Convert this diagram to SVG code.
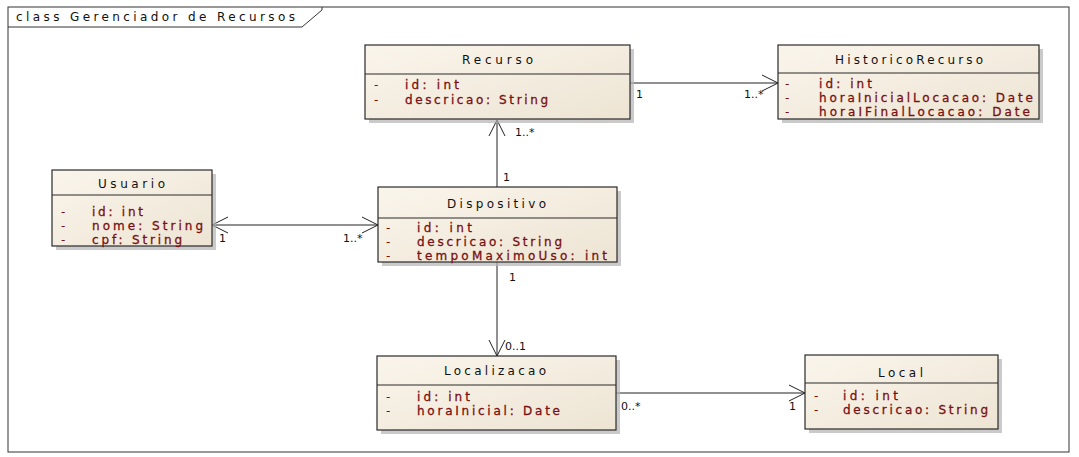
<svg xmlns="http://www.w3.org/2000/svg" width="1079" height="457" viewBox="0 0 1079 457">
  <defs>
    <linearGradient id="classFill" x1="0" y1="0" x2="1" y2="1">
      <stop offset="0" stop-color="#FAF5EC"/>
      <stop offset="1" stop-color="#EDE4D3"/>
    </linearGradient>
    <marker id="open" viewBox="-17 -9 19 18" refX="0" refY="0" markerWidth="19" markerHeight="18" markerUnits="userSpaceOnUse" orient="auto-start-reverse">
      <path d="M -16 -8 L 0 0 L -16 8" fill="none" stroke="#222" stroke-width="1"/>
    </marker>
    <style>
      .frame { fill: none; stroke: #333; stroke-width: 1; }
      .shadow { fill: #b4b4b4; opacity: 0.7; }
      .box { fill: url(#classFill); stroke: #2a2a2a; stroke-width: 1.2; }
      .div { stroke: #2a2a2a; stroke-width: 1; }
      .title { font-family: "DejaVu Sans", Verdana, sans-serif; font-size: 12px; fill: #111; }
      .attr { font-family: "DejaVu Sans", Verdana, sans-serif; font-size: 12px; fill: #7a1010; stroke: #7a1010; stroke-width: 0.3; }
      .vis { font-family: "DejaVu Sans", Verdana, sans-serif; font-size: 12px; fill: #7a1010; }
      .mult { font-family: "DejaVu Sans", Verdana, sans-serif; font-size: 11px; fill: #111; }
      .frame-label { font-family: "DejaVu Sans", Verdana, sans-serif; font-size: 12px; fill: #111; }
      .conn { stroke: #222; stroke-width: 1; fill: none; }
    </style>
  </defs>

  <rect width="1079" height="457" fill="#ffffff"/>

  <!-- diagram frame -->
  <g id="frame">
    <rect class="frame" x="8" y="7" width="1061" height="445"/>
    <path class="frame" d="M 8 27 H 302 L 322 10 V 7"/>
    <text class="frame-label" x="16" y="21" textLength="279" lengthAdjust="spacing">class Gerenciador de Recursos</text>
  </g>

  <!-- associations -->
  <g id="connectors">
    <line class="conn" x1="630" y1="83" x2="778" y2="83" marker-end="url(#open)"/>
    <line class="conn" x1="497" y1="187" x2="497" y2="120" marker-end="url(#open)"/>
    <line class="conn" x1="212" y1="225" x2="378" y2="225" marker-start="url(#open)" marker-end="url(#open)"/>
    <line class="conn" x1="497" y1="262" x2="497" y2="356" marker-end="url(#open)"/>
    <line class="conn" x1="616" y1="393" x2="805" y2="393" marker-end="url(#open)"/>

    <text class="mult" x="636" y="98">1</text>
    <text class="mult" x="744" y="98">1..*</text>
    <text class="mult" x="515" y="136">1..*</text>
    <text class="mult" x="503" y="181">1</text>
    <text class="mult" x="219" y="242">1</text>
    <text class="mult" x="343" y="242">1..*</text>
    <text class="mult" x="509" y="281">1</text>
    <text class="mult" x="505" y="350">0..1</text>
    <text class="mult" x="621" y="410">0..*</text>
    <text class="mult" x="789" y="410">1</text>
  </g>

  <!-- Recurso -->
  <g id="recurso">
    <rect class="shadow" x="369" y="49" width="265" height="74"/>
    <rect class="box" x="365" y="45" width="265" height="74"/>
    <line class="div" x1="365" y1="74" x2="630" y2="74"/>
    <text class="title" x="462" y="64" textLength="71" lengthAdjust="spacing">Recurso</text>
    <text class="vis" x="374" y="89">-</text>
    <text class="attr" x="405" y="89" textLength="54" lengthAdjust="spacing">id:  int</text>
    <text class="vis" x="374" y="104">-</text>
    <text class="attr" x="405" y="104" textLength="143" lengthAdjust="spacing">descricao:  String</text>
  </g>

  <!-- HistoricoRecurso -->
  <g id="historicoRecurso">
    <rect class="shadow" x="782" y="49" width="261" height="74"/>
    <rect class="box" x="778" y="45" width="261" height="74"/>
    <line class="div" x1="778" y1="73" x2="1039" y2="73"/>
    <text class="title" x="835" y="64" textLength="148" lengthAdjust="spacing">HistoricoRecurso</text>
    <text class="vis" x="785" y="88">-</text>
    <text class="attr" x="819" y="88" textLength="53" lengthAdjust="spacing">id:  int</text>
    <text class="vis" x="785" y="102">-</text>
    <text class="attr" x="819" y="102" textLength="214" lengthAdjust="spacing">horaInicialLocacao:  Date</text>
    <text class="vis" x="785" y="116">-</text>
    <text class="attr" x="819" y="116" textLength="211" lengthAdjust="spacing">horaIFinalLocacao:  Date</text>
  </g>

  <!-- Usuario -->
  <g id="usuario">
    <rect class="shadow" x="56" y="174" width="160" height="76"/>
    <rect class="box" x="52" y="170" width="160" height="76"/>
    <line class="div" x1="52" y1="195" x2="212" y2="195"/>
    <text class="title" x="98" y="188" textLength="67" lengthAdjust="spacing">Usuario</text>
    <text class="vis" x="61" y="216">-</text>
    <text class="attr" x="92" y="216" textLength="51" lengthAdjust="spacing">id:  int</text>
    <text class="vis" x="61" y="230">-</text>
    <text class="attr" x="92" y="230" textLength="111" lengthAdjust="spacing">nome:  String</text>
    <text class="vis" x="61" y="244">-</text>
    <text class="attr" x="92" y="244" textLength="90" lengthAdjust="spacing">cpf:  String</text>
  </g>

  <!-- Dispositivo -->
  <g id="dispositivo">
    <rect class="shadow" x="382" y="191" width="239" height="75"/>
    <rect class="box" x="378" y="187" width="239" height="75"/>
    <line class="div" x1="378" y1="218" x2="617" y2="218"/>
    <text class="title" x="447" y="208" textLength="99" lengthAdjust="spacing">Dispositivo</text>
    <text class="vis" x="386" y="232">-</text>
    <text class="attr" x="417" y="232" textLength="55" lengthAdjust="spacing">id:  int</text>
    <text class="vis" x="386" y="246">-</text>
    <text class="attr" x="417" y="246" textLength="145" lengthAdjust="spacing">descricao:  String</text>
    <text class="vis" x="386" y="260">-</text>
    <text class="attr" x="417" y="260" textLength="190" lengthAdjust="spacing">tempoMaximoUso:  int</text>
  </g>

  <!-- Localizacao -->
  <g id="localizacao">
    <rect class="shadow" x="381" y="360" width="239" height="74"/>
    <rect class="box" x="377" y="356" width="239" height="74"/>
    <line class="div" x1="377" y1="385" x2="616" y2="385"/>
    <text class="title" x="444" y="375" textLength="102" lengthAdjust="spacing">Localizacao</text>
    <text class="vis" x="386" y="401">-</text>
    <text class="attr" x="417" y="401" textLength="53" lengthAdjust="spacing">id:  int</text>
    <text class="vis" x="386" y="415">-</text>
    <text class="attr" x="417" y="415" textLength="143" lengthAdjust="spacing">horaInicial:  Date</text>
  </g>

  <!-- Local -->
  <g id="local">
    <rect class="shadow" x="809" y="359" width="193" height="74"/>
    <rect class="box" x="805" y="355" width="193" height="74"/>
    <line class="div" x1="805" y1="383" x2="998" y2="383"/>
    <text class="title" x="878" y="377" textLength="45" lengthAdjust="spacing">Local</text>
    <text class="vis" x="814" y="400">-</text>
    <text class="attr" x="843" y="400" textLength="55" lengthAdjust="spacing">id:  int</text>
    <text class="vis" x="814" y="414">-</text>
    <text class="attr" x="843" y="414" textLength="145" lengthAdjust="spacing">descricao:  String</text>
  </g>
</svg>
